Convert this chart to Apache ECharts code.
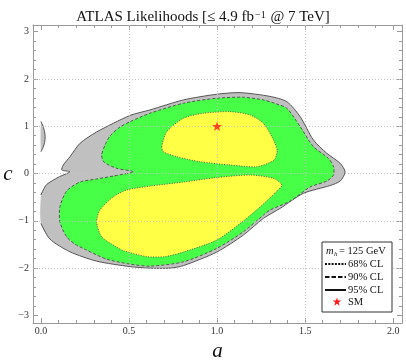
<!DOCTYPE html>
<html><head><meta charset="utf-8">
<script src="https://cdn.jsdelivr.net/npm/echarts@6/dist/echarts.min.js"></script>
<style>html,body{margin:0;padding:0;background:#fff}#c{width:406px;height:360px}</style>
</head><body><div id="c"></div>
<script>
// ---- axis ranges & ticks ----
const X_MIN = -0.045, X_MAX = 2.05, Y_MIN = -3.16, Y_MAX = 3.14;
const xMajorTicks = [0, 0.5, 1, 1.5, 2];
const xMinorTicks = [0.1,0.2,0.3,0.4,0.6,0.7,0.8,0.9,1.1,1.2,1.3,1.4,1.6,1.7,1.8,1.9];
const yMajorTicks = [-3,-2,-1,0,1,2,3];
const yMinorTicks = [-2.8,-2.6,-2.4,-2.2,-1.8,-1.6,-1.4,-1.2,-0.8,-0.6,-0.4,-0.2,0.2,0.4,0.6,0.8,1.2,1.4,1.6,1.8,2.2,2.4,2.6,2.8];
const xGridLines = [0.5, 1, 1.5];
const yGridLines = [-2, -1, 0, 1, 2];

// ---- contours (a, c) ----
// 95% CL main region (first two points lie on the a=0 domain edge)
const cl95Main = [[0,-0.455],[0,-1.054],[0.051,-1.386],[0.165,-1.655],[0.316,-1.852],[0.506,-1.968],[0.619,-2.0],[0.733,-2.0],[0.809,-1.947],[0.998,-1.661],[1.149,-1.302],[1.263,-0.948],[1.358,-0.737],[1.49,-0.419],[1.642,-0.254],[1.699,-0.159],[1.727,0.032],[1.699,0.216],[1.623,0.428],[1.547,0.709],[1.472,1.202],[1.396,1.52],[1.301,1.63],[1.131,1.71],[0.998,1.676],[0.809,1.556],[0.619,1.344],[0.506,1.228],[0.316,0.878],[0.222,0.639],[0.165,0.356],[0.127,0.18],[0.119,0.074],[0.165,0.038],[0.098,-0.08],[0.032,-0.233],[0.013,-0.349]];
// 95% CL small sliver at the a=0 edge (last->first lies on the edge)
const cl95Sliver = [[0,1.1],[0.012,1.0],[0.021,0.88],[0.024,0.78],[0.021,0.66],[0.012,0.55],[0,0.46]];
// 90% CL
const cl90 = [[0.524,0.038],[0.43,0.11],[0.358,0.243],[0.345,0.392],[0.364,0.603],[0.392,0.794],[0.449,0.984],[0.506,1.096],[0.619,1.274],[0.809,1.486],[0.998,1.592],[1.149,1.613],[1.263,1.556],[1.33,1.481],[1.396,1.38],[1.472,0.99],[1.547,0.567],[1.632,0.322],[1.661,0.144],[1.661,-0.032],[1.623,-0.159],[1.528,-0.286],[1.415,-0.582],[1.301,-0.772],[1.263,-0.878],[1.149,-1.232],[0.998,-1.583],[0.809,-1.867],[0.619,-1.958],[0.506,-1.915],[0.373,-1.81],[0.26,-1.619],[0.193,-1.492],[0.146,-1.338],[0.108,-1.026],[0.108,-0.703],[0.146,-0.37],[0.222,-0.18],[0.316,-0.116],[0.411,-0.053]];
// 68% CL upper island
const cl68Upper = [[0.686,0.567],[0.714,0.885],[0.809,1.168],[0.922,1.274],[1.074,1.308],[1.188,1.238],[1.263,1.062],[1.311,0.779],[1.341,0.497],[1.324,0.286],[1.226,0.144],[1.074,0.18],[0.903,0.25],[0.771,0.356],[0.695,0.461]];
// 68% CL lower island
const cl68Lower = [[1.368,-0.243],[1.32,-0.102],[1.188,-0.032],[0.998,-0.085],[0.809,-0.18],[0.619,-0.265],[0.487,-0.349],[0.411,-0.491],[0.335,-0.772],[0.316,-1.026],[0.345,-1.338],[0.42,-1.534],[0.468,-1.63],[0.601,-1.757],[0.705,-1.757],[0.809,-1.661],[0.998,-1.407],[1.149,-1.005],[1.263,-0.646],[1.335,-0.392]];
// Standard Model point
const smPoint = [[1, 1]];

const SERIF = "'Liberation Serif','DejaVu Serif',serif";
const LINE = '#555';
const SMOOTH = 0.25;
const STAR_PATH = 'path://M0,-10L2.35,-3.24L9.51,-3.09L3.8,1.24L5.88,8.09L0,4L-5.88,8.09L-3.8,1.24L-9.51,-3.09L-2.35,-3.24Z';

function contourSeries(name, pts, fill, dash, z, edgeAfter) {
  return {
    type: 'custom', name, z, silent: true, clip: true,
    coordinateSystem: 'cartesian2d',
    data: pts, encode: { x: 0, y: 1 },
    renderItem(params, api) {
      if (params.dataIndex !== 0) return null;
      const P = pts.map(p => api.coord(p));
      const children = [];
      if (edgeAfter == null) {
        children.push({ type: 'polygon', shape: { points: P, smooth: SMOOTH },
          style: { fill, stroke: LINE, lineWidth: 1, lineDash: dash } });
      } else {
        const L = P.slice(edgeAfter + 1).concat(P.slice(0, edgeAfter + 1));
        children.push({ type: 'polygon', shape: { points: P, smooth: SMOOTH }, style: { fill, stroke: null } });
        children.push({ type: 'polyline', shape: { points: L, smooth: SMOOTH },
          style: { fill: null, stroke: LINE, lineWidth: 1, lineDash: dash } });
      }
      return { type: 'group', children };
    }
  };
}

// legend star outline (pixel geometry of the legend symbol)
function starPoints(cx, cy, r) {
  const pts = [];
  for (let i = 0; i < 10; i++) {
    const ang = -Math.PI / 2 + i * Math.PI / 5;
    const rr = i % 2 === 0 ? r : r * 0.4;
    pts.push([cx + rr * Math.cos(ang), cy + rr * Math.sin(ang)]);
  }
  return pts;
}

const fmtY = v => (v < 0 ? '\u2212' + Math.abs(v) : String(v));
const axisCommon = (min, max) => ({ type: 'value', min, max, splitLine: { show: false } });
const tickStyle = { color: '#999', width: 1 };
const hiddenLine = { show: false, onZero: false };
const LFONT = '10.5px ' + SERIF;

const chart = echarts.init(document.getElementById('c'), null, { renderer: 'canvas' });
chart.setOption({
  animation: false,
  backgroundColor: '#fff',
  title: {
    left: 'center', top: 5,
    text: '{n|ATLAS Likelihoods [\u2264 4.9 fb}{s|\u22121}{n| @ 7 TeV]}',
    textStyle: { fontWeight: 'normal', rich: {
      n: { fontFamily: SERIF, fontSize: 15, fontWeight: 'normal', color: '#111', verticalAlign: 'bottom' },
      s: { fontFamily: SERIF, fontSize: 10, fontWeight: 'normal', color: '#111', verticalAlign: 'top', padding: [0, 1, 0, 1] }
    } }
  },
  grid: { left: 33, right: 4, top: 25, bottom: 37, containLabel: false, outerBoundsMode: 'none' },
  xAxis: [
    Object.assign(axisCommon(X_MIN, X_MAX), {
      position: 'bottom',
      axisLine: { show: true, onZero: false, lineStyle: tickStyle },
      axisTick: { show: true, inside: true, length: 5, customValues: xMajorTicks, lineStyle: tickStyle },
      axisLabel: { show: true, customValues: xMajorTicks, formatter: v => Number(v).toFixed(1),
        fontFamily: SERIF, fontSize: 10, color: '#333', margin: 3 },
      name: 'a', nameLocation: 'middle', nameGap: 16,
      nameTextStyle: { fontFamily: SERIF, fontStyle: 'italic', fontSize: 21, color: '#111' }
    }),
    Object.assign(axisCommon(X_MIN, X_MAX), {
      position: 'bottom', axisLine: hiddenLine,
      axisTick: { show: true, inside: true, length: 3, customValues: xMinorTicks, lineStyle: tickStyle },
      axisLabel: { show: false }
    }),
    Object.assign(axisCommon(X_MIN, X_MAX), {
      position: 'top', axisLine: { show: true, onZero: false, lineStyle: tickStyle },
      axisTick: { show: true, inside: true, length: 5, customValues: xMajorTicks, lineStyle: tickStyle },
      axisLabel: { show: false }
    }),
    Object.assign(axisCommon(X_MIN, X_MAX), {
      position: 'top', axisLine: hiddenLine,
      axisTick: { show: true, inside: true, length: 3, customValues: xMinorTicks, lineStyle: tickStyle },
      axisLabel: { show: false }
    })
  ],
  yAxis: [
    Object.assign(axisCommon(Y_MIN, Y_MAX), {
      position: 'left',
      axisLine: { show: true, onZero: false, lineStyle: tickStyle },
      axisTick: { show: true, inside: true, length: 5, customValues: yMajorTicks, lineStyle: tickStyle },
      axisLabel: { show: true, customValues: yMajorTicks, formatter: fmtY,
        fontFamily: SERIF, fontSize: 10, color: '#333', margin: 4 },
      name: 'c', nameLocation: 'middle', nameGap: 20, nameRotate: 0,
      nameTextStyle: { fontFamily: SERIF, fontStyle: 'italic', fontSize: 21, color: '#111' }
    }),
    Object.assign(axisCommon(Y_MIN, Y_MAX), {
      position: 'left', axisLine: hiddenLine,
      axisTick: { show: true, inside: true, length: 3, customValues: yMinorTicks, lineStyle: tickStyle },
      axisLabel: { show: false }
    }),
    Object.assign(axisCommon(Y_MIN, Y_MAX), {
      position: 'right', axisLine: { show: true, onZero: false, lineStyle: tickStyle },
      axisTick: { show: true, inside: true, length: 5, customValues: yMajorTicks, lineStyle: tickStyle },
      axisLabel: { show: false }
    }),
    Object.assign(axisCommon(Y_MIN, Y_MAX), {
      position: 'right', axisLine: hiddenLine,
      axisTick: { show: true, inside: true, length: 3, customValues: yMinorTicks, lineStyle: tickStyle },
      axisLabel: { show: false }
    })
  ],
  series: [
    contourSeries('95% CL', cl95Main, '#c0c0c0', null, 2, 0),
    contourSeries('95% CL edge', cl95Sliver, '#c0c0c0', null, 2, cl95Sliver.length - 1),
    contourSeries('90% CL', cl90, '#46ff46', [3, 2], 3, null),
    contourSeries('68% CL upper', cl68Upper, '#ffff46', [1, 1.5], 4, null),
    contourSeries('68% CL lower', cl68Lower, '#ffff46', [1, 1.5], 4, null),
    {
      type: 'scatter', name: 'SM', z: 6, data: smPoint,
      symbol: STAR_PATH, symbolSize: 10, symbolKeepAspect: true,
      itemStyle: { color: '#ff1a1a' }, silent: true,
      markLine: {
        silent: true, symbol: 'none', label: { show: false }, animation: false,
        lineStyle: { color: '#c4c4c4', type: [1, 2], width: 1 },
        emphasis: { disabled: true },
        data: xGridLines.map(v => ({ xAxis: v })).concat(yGridLines.map(v => ({ yAxis: v })))
      }
    }
  ],
  graphic: [
    { type: 'rect', z: 100, shape: { x: 322, y: 242, width: 70, height: 70 },
      style: { fill: '#fff', stroke: '#333', lineWidth: 1 } },
    { type: 'text', z: 101, x: 326, y: 251, style: { text: 'm', font: 'italic 10.5px ' + SERIF, fill: '#111', verticalAlign: 'middle' } },
    { type: 'text', z: 101, x: 334, y: 254, style: { text: 'h', font: 'italic 7px ' + SERIF, fill: '#111', verticalAlign: 'middle' } },
    { type: 'text', z: 101, x: 339, y: 251, style: { text: '= 125 GeV', font: LFONT, fill: '#111', verticalAlign: 'middle' } },
    { type: 'line', z: 101, shape: { x1: 325, y1: 264, x2: 346, y2: 264 }, style: { stroke: '#111', lineWidth: 2, lineDash: [2, 1.3] } },
    { type: 'text', z: 101, x: 348, y: 264, style: { text: '68% CL', font: LFONT, fill: '#111', verticalAlign: 'middle' } },
    { type: 'line', z: 101, shape: { x1: 325, y1: 277, x2: 346, y2: 277 }, style: { stroke: '#111', lineWidth: 2, lineDash: [4.5, 2] } },
    { type: 'text', z: 101, x: 348, y: 277, style: { text: '90% CL', font: LFONT, fill: '#111', verticalAlign: 'middle' } },
    { type: 'line', z: 101, shape: { x1: 325, y1: 290, x2: 346, y2: 290 }, style: { stroke: '#111', lineWidth: 2 } },
    { type: 'text', z: 101, x: 348, y: 290, style: { text: '95% CL', font: LFONT, fill: '#111', verticalAlign: 'middle' } },
    { type: 'polygon', z: 101, shape: { points: starPoints(337, 302, 4.5) }, style: { fill: '#ff1a1a' } },
    { type: 'text', z: 101, x: 348, y: 302, style: { text: 'SM', font: LFONT, fill: '#111', verticalAlign: 'middle' } }
  ]
});
</script>
</body></html>
